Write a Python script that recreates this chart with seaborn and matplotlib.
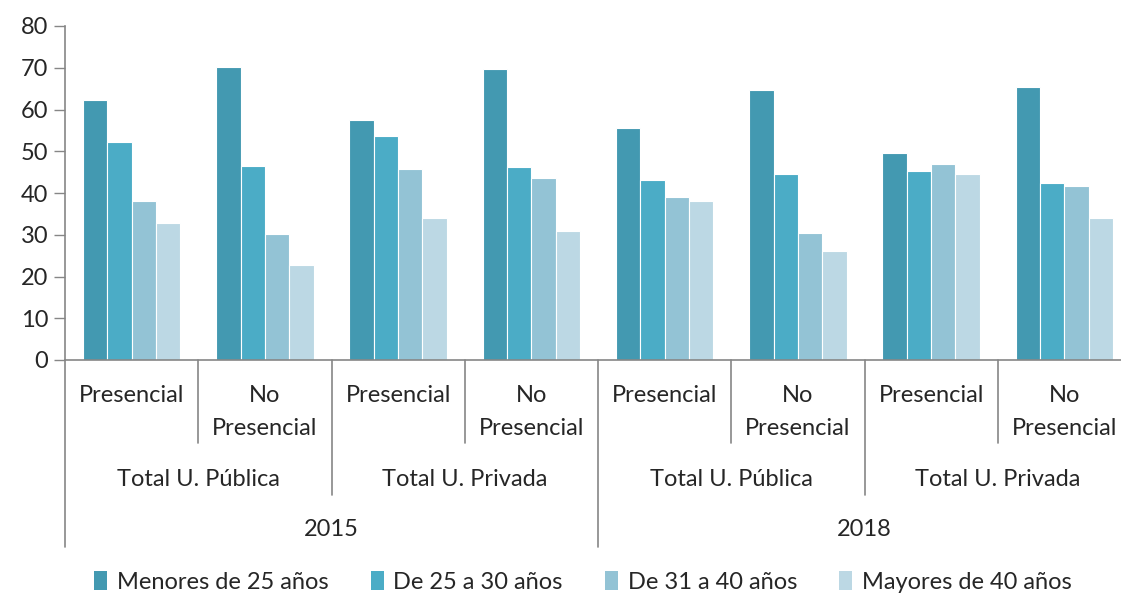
import pandas as pd
import seaborn as sns
import matplotlib.pyplot as plt
from matplotlib.patches import Patch

# Datos del gráfico
anios = ['2015', '2015', '2015', '2015', '2018', '2018', '2018', '2018']
sectores = ['Total U. Pública', 'Total U. Pública', 'Total U. Privada', 'Total U. Privada',
            'Total U. Pública', 'Total U. Pública', 'Total U. Privada', 'Total U. Privada']
modalidades = ['Presencial', 'No\nPresencial', 'Presencial', 'No\nPresencial',
               'Presencial', 'No\nPresencial', 'Presencial', 'No\nPresencial']
series = ['Menores de 25 años', 'De 25 a 30 años', 'De 31 a 40 años', 'Mayores de 40 años']
menores_25 = [62.2, 70.2, 57.4, 69.7, 55.6, 64.7, 49.6, 65.3]
de_25_30 = [52.2, 46.5, 53.6, 46.2, 43.0, 44.5, 45.3, 42.3]
de_31_40 = [38.0, 30.2, 45.7, 43.7, 39.0, 30.3, 46.9, 41.7]
mayores_40 = [32.8, 22.7, 34.0, 30.9, 38.0, 26.1, 44.5, 34.0]
colores = ['#4399B1', '#4BACC6', '#93C3D5', '#BCD8E4']

valores = [menores_25, de_25_30, de_31_40, mayores_40]
claves = [f'{a}|{s}|{m}' for a, s, m in zip(anios, sectores, modalidades)]
filas = []
for serie, vals in zip(series, valores):
    for k, v in zip(claves, vals):
        filas.append({'grupo': k, 'serie': serie, 'valor': v})
df = pd.DataFrame(filas)

sns.set_style('white')
plt.rcParams['font.family'] = ['Lato', 'DejaVu Sans']
fs = 17

fig = plt.figure(figsize=(11.21, 5.95), dpi=100)
ax = fig.add_axes([65 / 1121, 235 / 595, 1066 / 1121, 334 / 595])

sns.barplot(data=df, x='grupo', y='valor', hue='serie', order=claves, hue_order=series,
            palette=colores, width=0.73, edgecolor='white', linewidth=0.8,
            saturation=1, ax=ax, legend=False)

ax.set_xlim(-0.5, 7.5)
ax.set_ylim(0, 80)
ax.set_yticks(range(0, 81, 10))
ax.tick_params(axis='y', labelsize=fs, length=8, color='#868686', width=1, pad=4, left=True)
ax.set_xticks([])
ax.set_xlabel('')
ax.set_ylabel('')
sns.despine(ax=ax, top=True, right=True)
for lado in ['left', 'bottom']:
    ax.spines[lado].set_color('#868686')
    ax.spines[lado].set_linewidth(1.2)

# Etiquetas de categorías en varios niveles
tr = ax.get_xaxis_transform()
def py(pix):
    return (360 - pix) / 334

for i, m in enumerate(modalidades):
    ax.text(i, py(385), m, transform=tr, ha='center', va='top', fontsize=fs,
            linespacing=1.72)
for i in range(0, 8, 2):
    ax.text(i + 0.5, py(479), sectores[i], transform=tr, ha='center', va='center', fontsize=fs)
for i in range(0, 8, 4):
    ax.text(i + 1.5, py(529), anios[i], transform=tr, ha='center', va='center', fontsize=fs)

lineas = {0.5: 443, 2.5: 443, 4.5: 443, 6.5: 443, 1.5: 495, 5.5: 495,
          -0.5: 547, 3.5: 547, 7.5: 547}
for x, fin in lineas.items():
    ax.plot([x, x], [0, py(fin)], transform=tr, color='#868686', lw=1.2, clip_on=False)

handles = [Patch(facecolor=c, edgecolor='none') for c in colores]
fig.legend(handles, series, loc='center', bbox_to_anchor=(0.52, 13 / 595),
           ncol=4, frameon=False, fontsize=fs, handlelength=0.55, handleheight=0.85,
           handletextpad=0.4, columnspacing=1.8)

fig.savefig('out.png', dpi=100)
